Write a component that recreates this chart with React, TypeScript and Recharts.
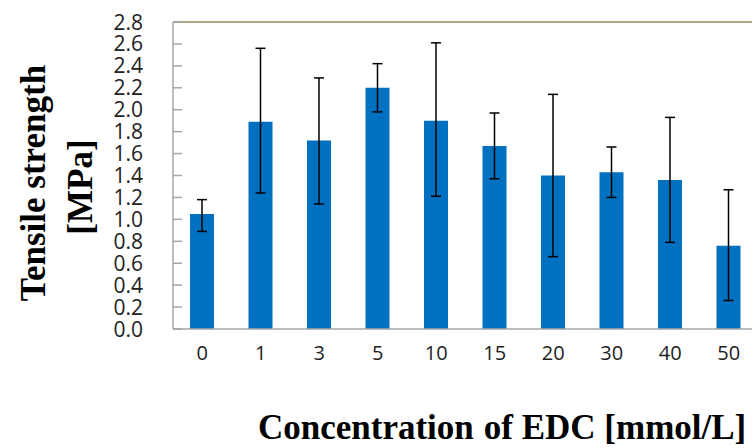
import { BarChart, Bar, XAxis, YAxis, ErrorBar, ReferenceLine } from "recharts";

const concentrations = ["0", "1", "3", "5", "10", "15", "20", "30", "40", "50"];
const strength = [1.05, 1.89, 1.72, 2.2, 1.9, 1.67, 1.4, 1.43, 1.36, 0.76];
const errLow = [0.89, 1.24, 1.14, 1.98, 1.21, 1.37, 0.66, 1.2, 0.79, 0.26];
const errHigh = [1.18, 2.56, 2.29, 2.42, 2.61, 1.97, 2.14, 1.66, 1.93, 1.27];
const yTicks = [0, 0.2, 0.4, 0.6, 0.8, 1.0, 1.2, 1.4, 1.6, 1.8, 2.0, 2.2, 2.4, 2.6, 2.8];

const data = concentrations.map((c, i) => ({
    conc: c,
    value: strength[i],
    err: [strength[i] - errLow[i], errHigh[i] - strength[i]]
}));

const TICK_FONT = "'Open Sans', 'DejaVu Sans', sans-serif";
const TITLE_FONT = "'Liberation Serif', 'Times New Roman', serif";
const AXIS_GRAY = "#a6a6a6";

function YTick(props: any) {
    const { x, y, payload } = props;
    return (
        <g>
            <line x1={x + 30} y1={y} x2={x + 39} y2={y} stroke={AXIS_GRAY} strokeWidth={1.5} />
            <text x={x} y={y} dy="0.36em" textAnchor="end" fontFamily={TICK_FONT} fontSize={21} fill="#222">
                {Number(payload.value).toFixed(1)}
            </text>
        </g>
    );
}

function YTitle() {
    return (
        <g fontFamily={TITLE_FONT} fontWeight="bold" fontSize={35} fill="#000">
            <text x={45} y={183} textAnchor="middle" transform="rotate(-90 45 183)">
                Tensile strength
            </text>
            <text x={92} y={187} textAnchor="middle" transform="rotate(-90 92 187)">
                [MPa]
            </text>
        </g>
    );
}

function XTitle() {
    return (
        <text x={258} y={439} fontFamily={TITLE_FONT} fontWeight="bold" fontSize={35} fill="#000">
            <tspan>Concentration</tspan>
            <tspan dx={10}>of EDC [mmol/L]</tspan>
        </text>
    );
}

export default function App() {
    return (
        <div style={{ position: "absolute", left: 0, top: 0, width: 752, height: 448, overflow: "hidden", background: "#fff" }}>
            <BarChart
                width={770}
                height={448}
                data={data}
                margin={{ top: 22, right: 12, left: 0, bottom: 0 }}
            >
                <ReferenceLine y={2.8} stroke="#948a54" strokeWidth={1.5} />
                <XAxis
                    dataKey="conc"
                    height={119}
                    tickLine={false}
                    tickSize={0}
                    tickMargin={17}
                    axisLine={{ stroke: AXIS_GRAY, strokeWidth: 1.5 }}
                    tick={{ fontFamily: TICK_FONT, fontSize: 20, fill: "#222" }}
                    label={{ content: () => <XTitle /> }}
                />
                <YAxis
                    width={173}
                    domain={[0, 2.8]}
                    ticks={yTicks}
                    interval={0}
                    tickLine={false}
                    tickSize={0}
                    tickMargin={30}
                    axisLine={{ stroke: AXIS_GRAY, strokeWidth: 1.5 }}
                    tick={<YTick />}
                    label={{ content: () => <YTitle /> }}
                />
                <Bar dataKey="value" fill="#0070c0" barSize={24} isAnimationActive={false}>
                    <ErrorBar dataKey="err" width={5} stroke="#000" strokeWidth={1.5} />
                </Bar>
            </BarChart>
        </div>
    );
}
